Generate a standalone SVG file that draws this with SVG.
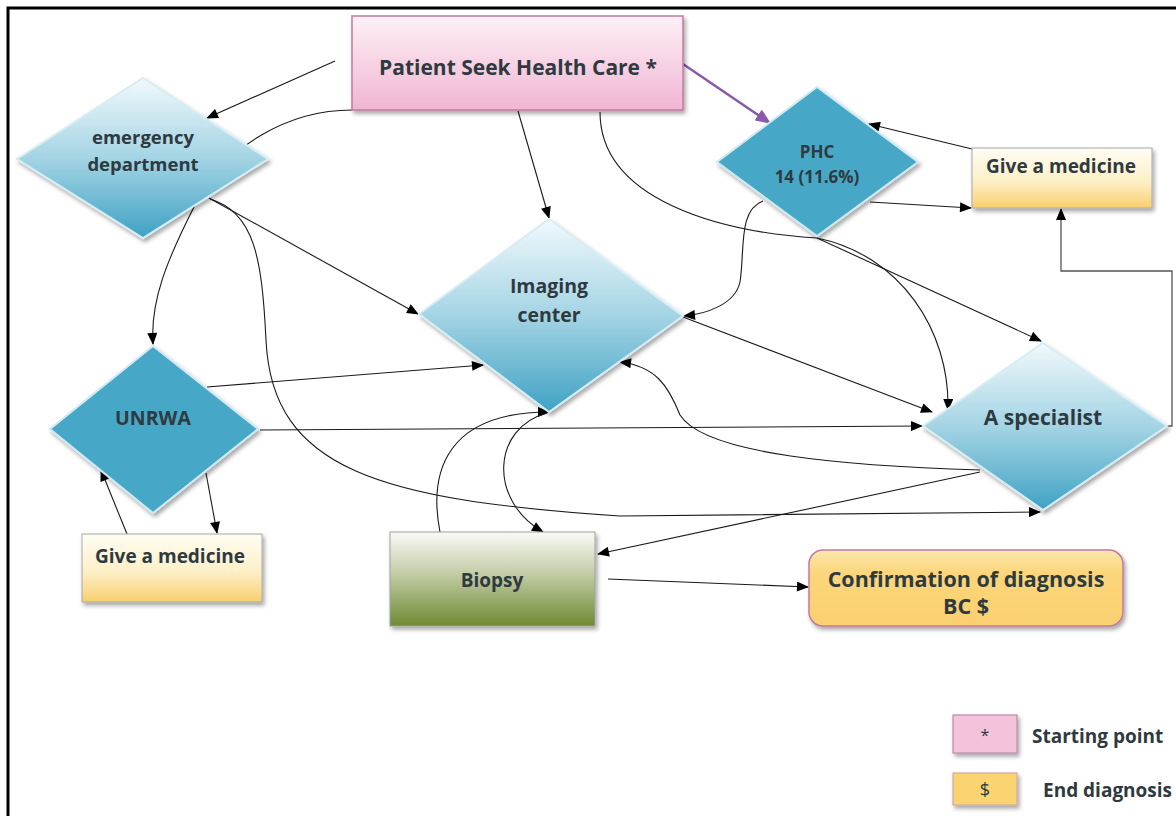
<svg xmlns="http://www.w3.org/2000/svg" width="1176" height="816" viewBox="0 0 1176 816">
<defs>
<linearGradient id="gPink" x1="0" y1="0" x2="0" y2="1"><stop offset="0" stop-color="#fdf0f6"/><stop offset="1" stop-color="#f1b5d2"/></linearGradient>
<linearGradient id="gYellow" x1="0" y1="0" x2="0" y2="1"><stop offset="0" stop-color="#fffdf4"/><stop offset="0.55" stop-color="#fdf0c8"/><stop offset="1" stop-color="#f8cf70"/></linearGradient>
<linearGradient id="gGreen" x1="0" y1="0" x2="0" y2="1"><stop offset="0" stop-color="#fafaf6"/><stop offset="0.45" stop-color="#c2cba4"/><stop offset="1" stop-color="#6e8a33"/></linearGradient>
<linearGradient id="gConf" x1="0" y1="0" x2="0" y2="1"><stop offset="0" stop-color="#fde8b0"/><stop offset="0.3" stop-color="#fbd67a"/><stop offset="1" stop-color="#fad070"/></linearGradient>
<linearGradient id="gLight" x1="0" y1="0" x2="0" y2="1"><stop offset="0" stop-color="#f1f9fc"/><stop offset="0.5" stop-color="#a4d4e4"/><stop offset="1" stop-color="#3fa2c4"/></linearGradient>
<filter id="sh" x="-10%" y="-10%" width="125%" height="130%"><feDropShadow dx="2" dy="3" stdDeviation="2" flood-color="#000" flood-opacity="0.35"/></filter>
<marker id="ar" viewBox="0 0 12 10" refX="11" refY="5" markerWidth="13" markerHeight="10" markerUnits="userSpaceOnUse" orient="auto"><path d="M0,0 L12,5 L0,10 Z" fill="#000"/></marker>
<marker id="arP" viewBox="0 0 12 10" refX="11" refY="5" markerWidth="16" markerHeight="13" markerUnits="userSpaceOnUse" orient="auto"><path d="M0,0 L12,5 L0,10 Z" fill="#8a5aaa"/></marker>
<style>
.t{font-family:"Open Sans","Liberation Sans",sans-serif;font-weight:bold;text-anchor:middle;fill:#2e3a40}
.c{fill:none;stroke:#1a1a1a;stroke-width:1.1}
.dl{fill:url(#gLight);stroke:#d6edf4;stroke-width:2}
.dd{fill:#46a7c7;stroke:#cfe9f2;stroke-width:2}
</style>
</defs>
<rect width="1176" height="816" fill="#fff"/>
<path d="M8,816 V8 H1176" fill="none" stroke="#000" stroke-width="3"/>

<g id="connectors">
<path class="c" d="M335,61 L207,118" marker-end="url(#ar)"/>
<path d="M683,64 L770,123" fill="none" stroke="#8a5aaa" stroke-width="2.5" marker-end="url(#arP)"/>
<path class="c" d="M518,111 L549,218" marker-end="url(#ar)"/>
<path class="c" d="M352,110 C290,110 225,145 195,205 C168,258 150,300 153,344" marker-end="url(#ar)"/>
<path class="c" d="M600,112 C600,200 720,232 817,238 L1041,341" marker-end="url(#ar)"/>
<path class="c" d="M817,238 C900,255 950,330 948,410" marker-end="url(#ar)"/>
<path class="c" d="M763,201 C738,210 745,250 740,282 C735,305 705,314 684,316" marker-end="url(#ar)"/>
<path class="c" d="M870,202 L971,208" marker-end="url(#ar)"/>
<path class="c" d="M972,149 L869,124" marker-end="url(#ar)"/>
<path d="M1167,426 H1172 V271 H1061 V209" fill="none" stroke="#555" stroke-width="1.3" marker-end="url(#ar)"/>
<path class="c" d="M209,198 L418,314" marker-end="url(#ar)"/>
<path class="c" d="M210,199 C255,212 262,260 266,340 C272,470 380,500 620,516 L1040,512" marker-end="url(#ar)"/>
<path class="c" d="M207,387 L483,365" marker-end="url(#ar)"/>
<path class="c" d="M260,430 L922,426" marker-end="url(#ar)"/>
<path class="c" d="M980,470 C850,466 705,455 680,415 C668,385 655,366 620,362" marker-end="url(#ar)"/>
<path class="c" d="M980,472 L598,554" marker-end="url(#ar)"/>
<path class="c" d="M440,532 C428,470 448,412 549,412" marker-end="url(#ar)"/>
<path class="c" d="M547,413 C492,428 488,500 543,532" marker-end="url(#ar)"/>
<path class="c" d="M683,317 L932,412" marker-end="url(#ar)"/>
<path class="c" d="M608,579 L808,587" marker-end="url(#ar)"/>
<path class="c" d="M206,473 L217,533" marker-end="url(#ar)"/>
<path class="c" d="M127,534 L101,470" marker-end="url(#ar)"/>
</g>

<g id="patient">
<rect x="352" y="16" width="331" height="94" fill="url(#gPink)" stroke="#c27aa0" stroke-width="1.5" filter="url(#sh)"/>
<text class="t" x="518" y="75" font-size="21">Patient Seek Health Care *</text>
</g>

<g id="emergency">
<path class="dl" d="M143,78 L268,159 L143,238 L17,159 Z" filter="url(#sh)"/>
<text class="t" x="143" y="144" font-size="18.5">emergency</text>
<text class="t" x="143" y="171" font-size="18.5">department</text>
</g>

<g id="phc">
<path class="dd" d="M817,87 L918,162 L817,236 L717,162 Z" filter="url(#sh)"/>
<text class="t" x="817" y="158" font-size="17">PHC</text>
<text class="t" x="817" y="183" font-size="17">14 (11.6%)</text>
</g>

<g id="medicine-top">
<rect x="972" y="148" width="180" height="60" fill="url(#gYellow)" stroke="#a8a8a8" stroke-width="1" filter="url(#sh)"/>
<text class="t" x="1061" y="173" font-size="19">Give a medicine</text>
</g>

<g id="imaging">
<path class="dl" d="M549,219 L683,316 L549,412 L419,314 Z" filter="url(#sh)"/>
<text class="t" x="549" y="293" font-size="19.5">Imaging</text>
<text class="t" x="549" y="322" font-size="19.5">center</text>
</g>

<g id="unrwa">
<path class="dd" d="M153,346 L258,429 L153,513 L50,429 Z" filter="url(#sh)"/>
<text class="t" x="153" y="425" font-size="19.5">UNRWA</text>
</g>

<g id="specialist">
<path class="dl" d="M1043,343 L1167,426 L1043,510 L923,426 Z" filter="url(#sh)"/>
<text class="t" x="1043" y="425" font-size="21">A specialist</text>
</g>

<g id="medicine-bottom">
<rect x="82" y="534" width="180" height="68" fill="url(#gYellow)" stroke="#a8a8a8" stroke-width="1" filter="url(#sh)"/>
<text class="t" x="170" y="563" font-size="19">Give a medicine</text>
</g>

<g id="biopsy">
<rect x="390" y="532" width="205" height="94" fill="url(#gGreen)" stroke="#a0a0a0" stroke-width="1" filter="url(#sh)"/>
<text class="t" x="492" y="587" font-size="19">Biopsy</text>
</g>

<g id="confirmation">
<rect x="809" y="550" width="314" height="76" rx="14" fill="url(#gConf)" stroke="#c27aa0" stroke-width="1.5" filter="url(#sh)"/>
<text class="t" x="966" y="587" font-size="21.5">Confirmation of diagnosis</text>
<text class="t" x="966" y="614" font-size="21.5">BC $</text>
</g>

<g id="legend">
<rect x="953" y="715" width="64" height="38" fill="#f5c2dc" stroke="#b88aa8" stroke-width="1.2" filter="url(#sh)"/>
<text class="t" x="985" y="741" font-size="16" style="font-weight:normal">*</text>
<text class="t" x="1032" y="743" font-size="19" style="text-anchor:start">Starting point</text>
<rect x="953" y="773" width="64" height="32" fill="#fbd472" stroke="#d0a8a8" stroke-width="1.2" filter="url(#sh)"/>
<text class="t" x="985" y="796" font-size="18" style="font-weight:normal">$</text>
<text class="t" x="1043" y="797" font-size="19" style="text-anchor:start">End diagnosis</text>
</g>
</svg>
